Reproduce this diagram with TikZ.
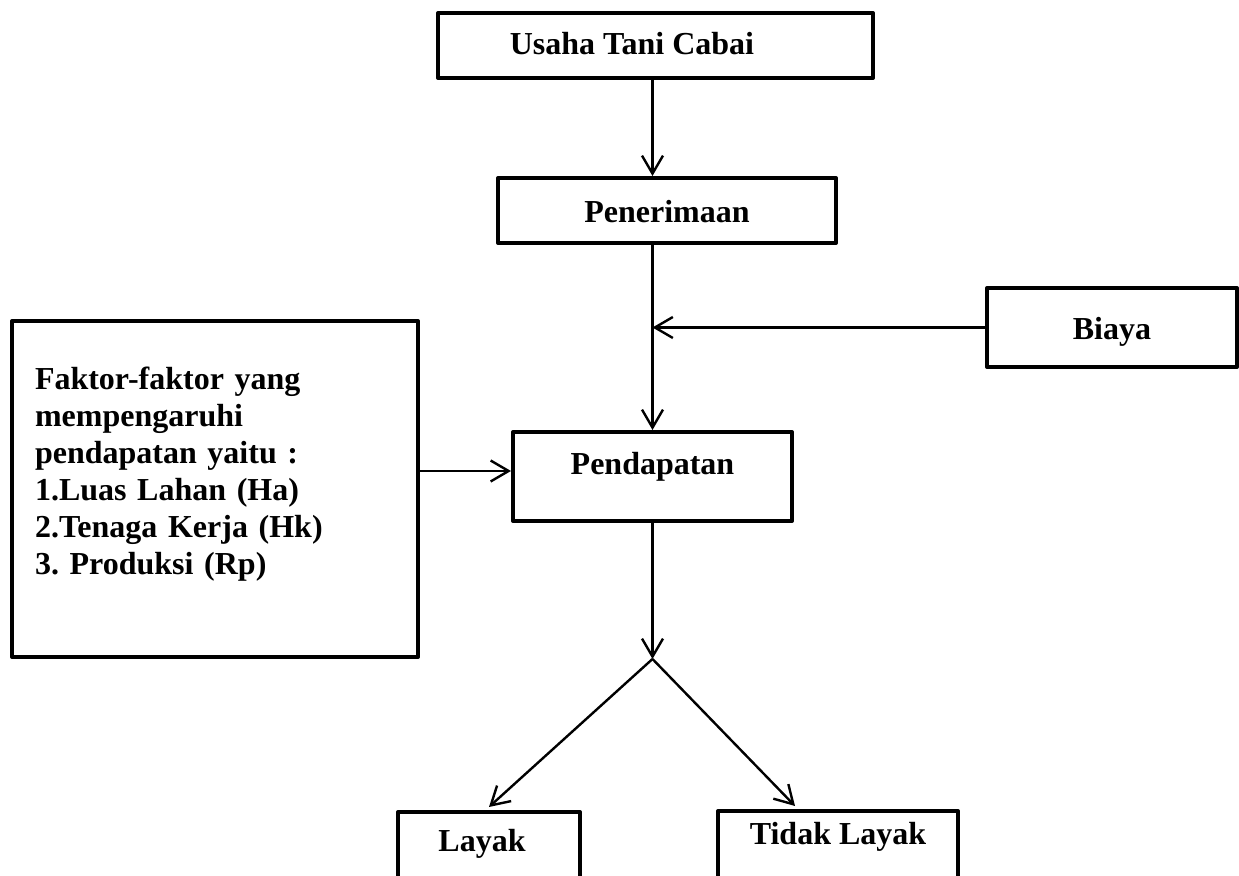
\documentclass[tikz,border=0pt]{standalone}
\usepackage{fontspec}
\setmainfont{Liberation Serif}
\usetikzlibrary{arrows.meta}
\frenchspacing

\begin{document}
\begin{tikzpicture}[x=0.5pt,y=-0.5pt,
  kotak/.style n args={2}{draw,line width=2pt,line join=round,minimum width=#1*0.5pt,minimum height=#2*0.5pt,inner sep=0pt,font=\bfseries\fontsize{16pt}{18.5pt}\selectfont},
  panah/.style={-{Straight Barb[length=9pt,width=10.5pt]},line width=1.2pt}]
\useasboundingbox (0,0) rectangle (1239,876);
% kotak utama
\node[kotak={435}{65},text height=13pt,text depth=3.5pt](usaha) at(655.5,45.5) {Usaha Tani Cabai\hspace*{23.5pt}};
\node[kotak={338}{65},text height=16pt,text depth=3.5pt](pener) at(667,210.5) {Penerimaan};
\node[kotak={250}{79},text height=16pt,text depth=3.5pt](biaya) at(1112,327.5) {Biaya};
\node[kotak={279}{89},text height=11pt,text depth=12.5pt](pendapatan) at(652.5,476.5) {Pendapatan};
\node[kotak={406}{336},text width=180pt,align=left](faktor) at(215,489) {Faktor-faktor yang\\ mempengaruhi\\ pendapatan yaitu :\\ 1.Luas Lahan (Ha)\\ 2.Tenaga Kerja (Hk)\\ 3. Produksi (Rp)\\ \mbox{}};
\node[kotak={182}{70},text height=11pt,text depth=6pt](layak) at(489,847) {Layak\hspace*{7pt}};
\node[kotak={240}{70},text height=11pt,text depth=12pt](tidak) at(838,846) {Tidak Layak};
% titik pertemuan
\coordinate (temu) at (pendapatan |- biaya.west);
\coordinate (masuk) at ([yshift=2.75pt]pendapatan.west);
\coordinate (cabang) at (pendapatan.south |- faktor.south);
% panah
\draw[panah] (usaha.south -| pendapatan) -- (pener.north -| pendapatan);
\draw[panah] (pener.south -| pendapatan) -- (pendapatan.north);
\draw[panah] (biaya.west) -- (temu);
\draw[panah] (masuk -| faktor.east) -- (masuk);
\draw[panah] (pendapatan.south) -- (cabang);
\draw[panah] (cabang) -- ([yshift=1.5pt]layak.north);
\draw[panah] (cabang) -- ([xshift=-21.5pt,yshift=1.5pt]tidak.north);
\end{tikzpicture}
\end{document}
